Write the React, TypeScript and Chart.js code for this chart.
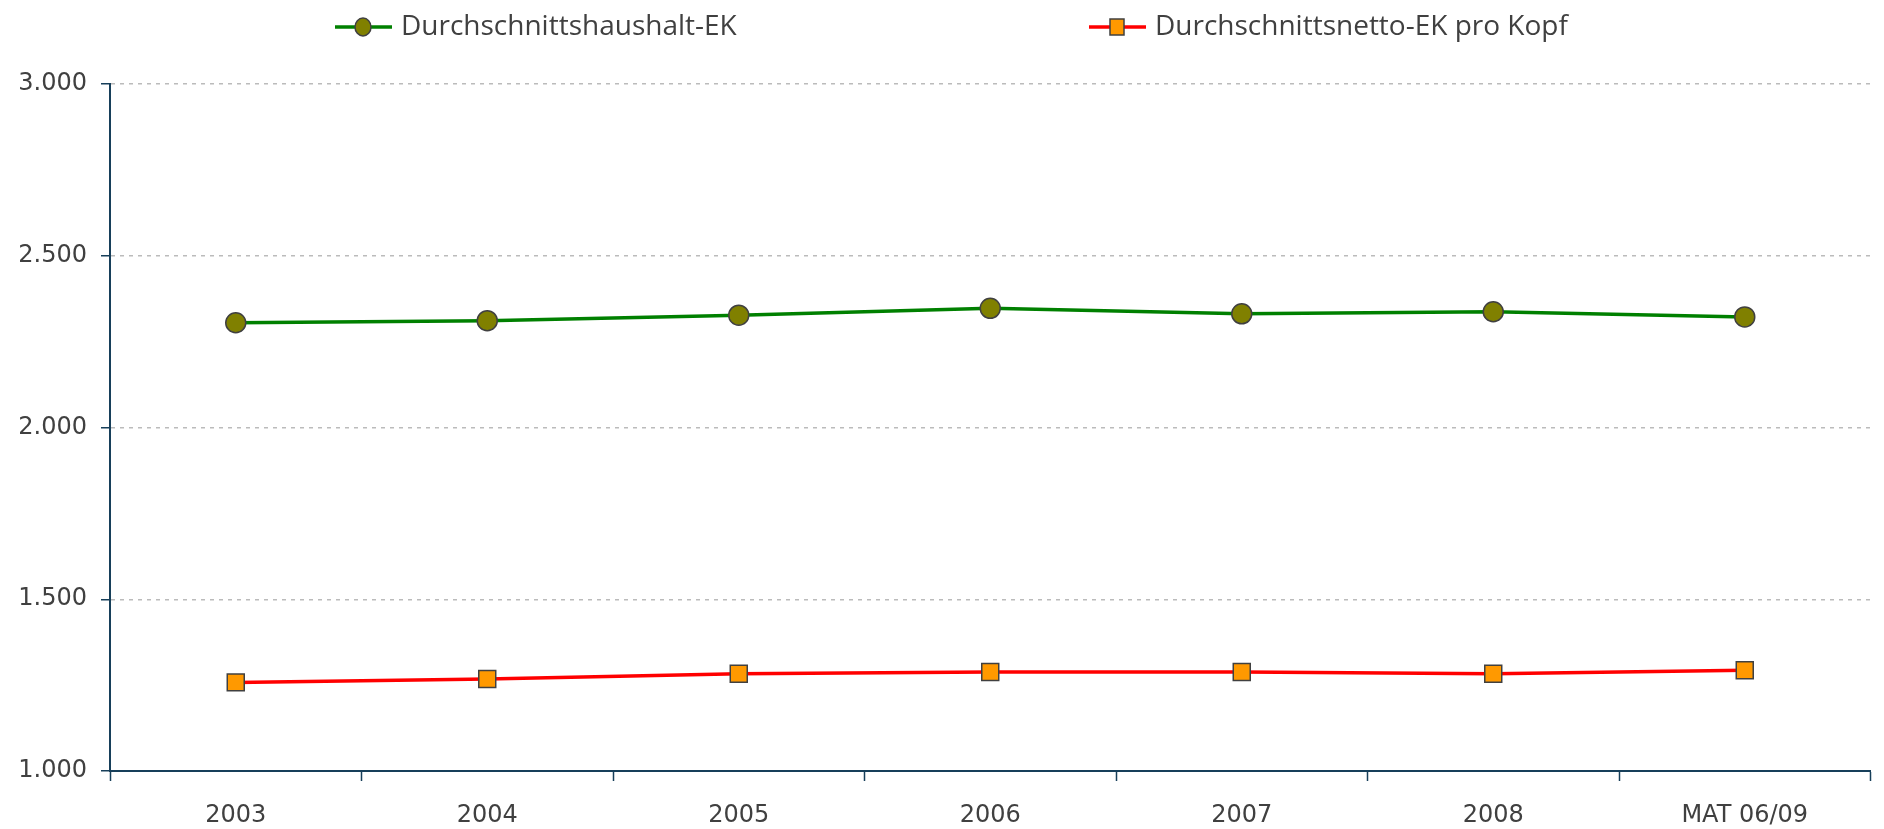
import React, { useEffect, useRef } from "react";
import { Chart, registerables } from "chart.js";

Chart.register(...registerables);

const categories = ["2003", "2004", "2005", "2006", "2007", "2008", "MAT 06/09"];
const householdIncome = [2305, 2311, 2327, 2347, 2331, 2337, 2322];
const perCapitaIncome = [1258, 1268, 1283, 1288, 1288, 1283, 1293];
const yTicks = [1000, 1500, 2000, 2500, 3000];
const seriesNames = ["Durchschnittshaushalt-EK", "Durchschnittsnetto-EK pro Kopf"];

const AXIS = "#173F5A";
const TEXT = "#404040";
const TICK_FONT = "'DejaVu Sans', sans-serif";
const LEGEND_FONT = "'Open Sans', sans-serif";

const formatThousands = (v: number) => {
  const s = Math.round(v).toString();
  return s.replace(/\B(?=(\d{3})+(?!\d))/g, ".");
};

const legendPlugin = {
  id: "customLegend",
  afterDraw(chart: any) {
    const ctx = chart.ctx;
    const starts = [335, 1089];
    const yC = 27;
    chart.data.datasets.forEach((ds: any, i: number) => {
      const x0 = starts[i];
      ctx.save();
      ctx.strokeStyle = ds.borderColor;
      ctx.lineWidth = 3.5;
      ctx.beginPath();
      ctx.moveTo(x0, yC);
      ctx.lineTo(x0 + 57, yC);
      ctx.stroke();
      ctx.fillStyle = ds.pointBackgroundColor;
      ctx.strokeStyle = ds.pointBorderColor;
      ctx.lineWidth = 1.5;
      const cx = x0 + 28;
      ctx.beginPath();
      if (ds.pointStyle === "rect") {
        ctx.rect(cx - 7, yC - 8, 14, 16);
      } else {
        ctx.ellipse(cx, yC, 8, 9, 0, 0, Math.PI * 2);
      }
      ctx.fill();
      ctx.stroke();
      ctx.fillStyle = TEXT;
      ctx.font = `28px ${LEGEND_FONT}`;
      ctx.textBaseline = "middle";
      ctx.textAlign = "left";
      ctx.fillText(ds.label, x0 + 66, yC);
      ctx.restore();
    });
  },
};

export default function App() {
  const ref = useRef<HTMLCanvasElement>(null);
  useEffect(() => {
    document.body.style.margin = "0";
    const chart = new Chart(ref.current as HTMLCanvasElement, {
      type: "line",
      data: {
        labels: categories,
        datasets: [
          {
            label: seriesNames[0],
            data: householdIncome,
            borderColor: "#008000",
            borderWidth: 3.5,
            pointStyle: "circle",
            pointRadius: 10,
            pointBackgroundColor: "#808000",
            pointBorderColor: "#404040",
            pointBorderWidth: 1.5,
            tension: 0,
          },
          {
            label: seriesNames[1],
            data: perCapitaIncome,
            borderColor: "#FF0000",
            borderWidth: 3.5,
            pointStyle: "rect",
            pointRadius: 12,
            pointBackgroundColor: "#FF9900",
            pointBorderColor: "#404040",
            pointBorderWidth: 1.5,
            tension: 0,
          },
        ],
      },
      options: {
        animation: false,
        responsive: false,
        maintainAspectRatio: false,
        layout: { padding: { top: 84, right: 1, left: 0, bottom: 0 } },
        plugins: { legend: { display: false }, tooltip: { enabled: false } },
        scales: {
          x: {
            offset: true,
            grid: {
              offset: true,
              drawOnChartArea: false,
              drawTicks: true,
              tickLength: 10,
              tickColor: AXIS,
              tickWidth: 1.5,
            },
            border: { color: AXIS, width: 2 },
            ticks: { color: TEXT, font: { family: TICK_FONT, size: 24 }, padding: 20 },
            afterFit: (s: any) => {
              s.height = 58;
            },
          },
          y: {
            min: 1000,
            max: 3000,
            afterBuildTicks: (s: any) => {
              s.ticks = yTicks.map((v) => ({ value: v }));
            },
            grid: {
              color: "#BBBBBB",
              lineWidth: 1.5,
              drawTicks: true,
              tickLength: 9,
              tickColor: AXIS,
              tickWidth: 1.5,
              tickBorderDash: [1, 0],
            },
            border: { color: AXIS, width: 2, dash: [4, 5] },
            ticks: {
              color: TEXT,
              font: { family: TICK_FONT, size: 24 },
              padding: 14,
              callback: (v: any) => formatThousands(Number(v)),
            },
            afterFit: (s: any) => {
              s.width = 110;
            },
          },
        },
      },
      plugins: [legendPlugin],
    });
    return () => chart.destroy();
  }, []);
  return (
    <div style={{ position: "absolute", left: 0, top: 0, width: 1884, height: 829 }}>
      <canvas ref={ref} width={1884} height={829} style={{ display: "block" }} />
    </div>
  );
}
